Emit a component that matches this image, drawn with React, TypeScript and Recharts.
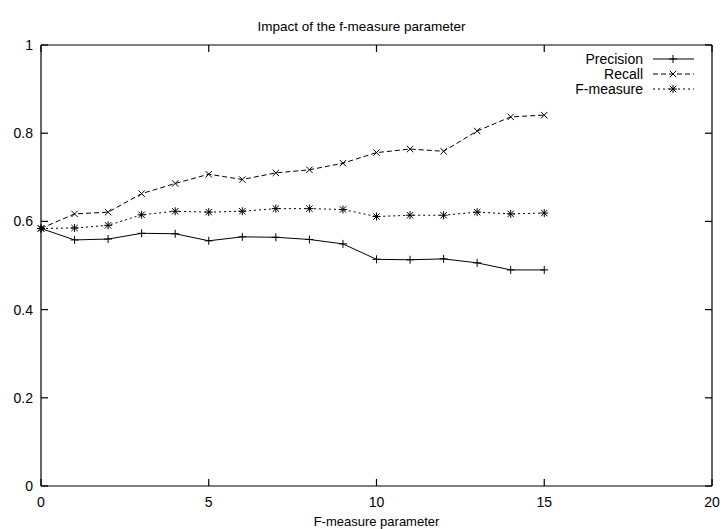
import React from "react";
import { LineChart, Line, XAxis, YAxis, Legend } from "recharts";

const paramValues = [0, 1, 2, 3, 4, 5, 6, 7, 8, 9, 10, 11, 12, 13, 14, 15];
const precision = [0.584, 0.558, 0.56, 0.573, 0.572, 0.556, 0.565, 0.564, 0.559, 0.549, 0.514, 0.513, 0.515, 0.506, 0.49, 0.49];
const recall = [0.584, 0.617, 0.621, 0.663, 0.686, 0.707, 0.695, 0.71, 0.717, 0.732, 0.756, 0.764, 0.759, 0.805, 0.837, 0.841];
const fmeasure = [0.584, 0.585, 0.591, 0.615, 0.623, 0.621, 0.623, 0.629, 0.629, 0.627, 0.611, 0.614, 0.614, 0.621, 0.617, 0.619];

const xTicks = [0, 5, 10, 15, 20];
const xTickLabels = ["0", "5", "10", "15", "20"];
const yTicks = [0, 0.2, 0.4, 0.6, 0.8, 1];
const yTickLabels = ["0", "0.2", "0.4", "0.6", "0.8", "1"];

const title = "Impact of the f-measure parameter";
const xTitle = "F-measure parameter";

const data = paramValues.map((x, i) => ({
  x,
  precision: precision[i],
  recall: recall[i],
  fmeasure: fmeasure[i],
}));

const FONT = "'Liberation Sans', Arial, sans-serif";
const FS = 14;
const TICK = 7;

type Mk = "plus" | "cross" | "star";
const series: { key: string; name: string; dash?: string; marker: Mk }[] = [
  { key: "precision", name: "Precision", marker: "plus" },
  { key: "recall", name: "Recall", dash: "5 3", marker: "cross" },
  { key: "fmeasure", name: "F-measure", dash: "2 3", marker: "star" },
];

function MarkerShape({ cx, cy, kind }: { cx: number; cy: number; kind: Mk }) {
  const p = 4;
  const c = 3.2;
  const plus = (
    <>
      <line x1={cx - p} y1={cy} x2={cx + p} y2={cy} stroke="#000" strokeWidth={1} />
      <line x1={cx} y1={cy - p} x2={cx} y2={cy + p} stroke="#000" strokeWidth={1} />
    </>
  );
  const cross = (
    <>
      <line x1={cx - c} y1={cy - c} x2={cx + c} y2={cy + c} stroke="#000" strokeWidth={1} />
      <line x1={cx - c} y1={cy + c} x2={cx + c} y2={cy - c} stroke="#000" strokeWidth={1} />
    </>
  );
  return (
    <g>
      {(kind === "plus" || kind === "star") && plus}
      {(kind === "cross" || kind === "star") && cross}
    </g>
  );
}

const makeDot = (kind: Mk) => (props: any) => {
  const { cx, cy, index } = props;
  if (cx == null || cy == null) return <g key={`d-${kind}-${index}`} />;
  return (
    <g key={`d-${kind}-${index}`}>
      <MarkerShape cx={cx} cy={cy} kind={kind} />
    </g>
  );
};

const BottomTick = (props: any) => {
  const { x, y, index } = props;
  return (
    <g>
      <line x1={x} y1={y} x2={x} y2={y - TICK} stroke="#000" strokeWidth={1.2} />
      <text x={x} y={y + 16} textAnchor="middle" dominantBaseline="central" fontFamily={FONT} fontSize={FS} fill="#000">
        {xTickLabels[index]}
      </text>
    </g>
  );
};

const TopTick = (props: any) => {
  const { x, y } = props;
  return <line x1={x} y1={y} x2={x} y2={y + TICK} stroke="#000" strokeWidth={1.2} />;
};

const LeftTick = (props: any) => {
  const { x, y, index } = props;
  return (
    <g>
      <line x1={x} y1={y} x2={x + TICK} y2={y} stroke="#000" strokeWidth={1.2} />
      <text x={x - 8} y={y} textAnchor="end" dominantBaseline="central" fontFamily={FONT} fontSize={FS} fill="#000">
        {yTickLabels[index]}
      </text>
    </g>
  );
};

const RightTick = (props: any) => {
  const { x, y } = props;
  return <line x1={x} y1={y} x2={x - TICK} y2={y} stroke="#000" strokeWidth={1.2} />;
};

const LegendContent = (props: any) => {
  const payload = (props.payload || []).filter((e: any) => series.some((s) => s.key === e.dataKey));
  const ordered = series
    .map((s) => payload.find((e: any) => e.dataKey === s.key))
    .filter(Boolean);
  return (
    <svg width={130} height={48} style={{ display: "block", overflow: "visible" }}>
      {ordered.map((entry: any, i: number) => {
        const s = series.find((d) => d.key === entry.dataKey) || series[i];
        const cy = 7 + i * 15;
        return (
          <g key={`lg-${i}`}>
            <text x={63} y={cy} textAnchor="end" dominantBaseline="central" fontFamily={FONT} fontSize={FS} fill="#000">
              {entry.value}
            </text>
            <line x1={73} y1={cy} x2={114} y2={cy} stroke="#000" strokeWidth={1} strokeDasharray={s.dash} />
            <MarkerShape cx={93} cy={cy} kind={s.marker} />
          </g>
        );
      })}
    </svg>
  );
};

export default function App() {
  return (
    <div style={{ position: "absolute", left: 0, top: 0, width: 722, height: 529, background: "#fff" }}>
      <LineChart width={722} height={529} data={data} margin={{ top: 44, right: 9, bottom: 0, left: 0 }}>
        <XAxis
          dataKey="x"
          type="number"
          domain={[0, 20]}
          ticks={xTicks}
          height={43}
          tickSize={0}
          tickMargin={0}
          tickLine={false}
          tick={<BottomTick />}
          interval={0}
          stroke="#000"
          strokeWidth={1.2}
          label={{ value: xTitle, position: "insideBottom", offset: 3, fontFamily: FONT, fontSize: 13, fill: "#000" }}
        />
        <XAxis
          xAxisId="top"
          dataKey="x"
          type="number"
          orientation="top"
          domain={[0, 20]}
          ticks={xTicks}
          height={1}
          tickSize={0}
          tickMargin={0}
          tickLine={false}
          tick={<TopTick />}
          interval={0}
          stroke="#000"
          strokeWidth={1.2}
          label={{ value: title, position: "top", offset: 13, dx: -15, fontFamily: FONT, fontSize: 13.5, fill: "#000" }}
        />
        <YAxis
          type="number"
          domain={[0, 1]}
          ticks={yTicks}
          width={41}
          tickSize={0}
          tickMargin={0}
          tickLine={false}
          tick={<LeftTick />}
          interval={0}
          stroke="#000"
          strokeWidth={1.2}
        />
        <YAxis
          yAxisId="right"
          orientation="right"
          type="number"
          domain={[0, 1]}
          ticks={yTicks}
          width={1}
          tickSize={0}
          tickMargin={0}
          tickLine={false}
          tick={<RightTick />}
          interval={0}
          stroke="#000"
          strokeWidth={1.2}
        />
        <Legend
          layout="horizontal"
          verticalAlign="middle"
          align="center"
          content={<LegendContent />}
          wrapperStyle={{ position: "absolute", left: 580, top: 52, width: 130, height: 48 }}
        />
        {series.map((s) => (
          <Line
            key={s.key}
            dataKey={s.key}
            name={s.name}
            type="linear"
            stroke="#000"
            strokeWidth={1}
            strokeDasharray={s.dash}
            dot={makeDot(s.marker)}
            activeDot={false}
            isAnimationActive={false}
          />
        ))}
        <Line
          xAxisId="top"
          yAxisId="right"
          dataKey="precision"
          stroke="none"
          dot={false}
          activeDot={false}
          legendType="none"
          isAnimationActive={false}
        />
      </LineChart>
    </div>
  );
}
